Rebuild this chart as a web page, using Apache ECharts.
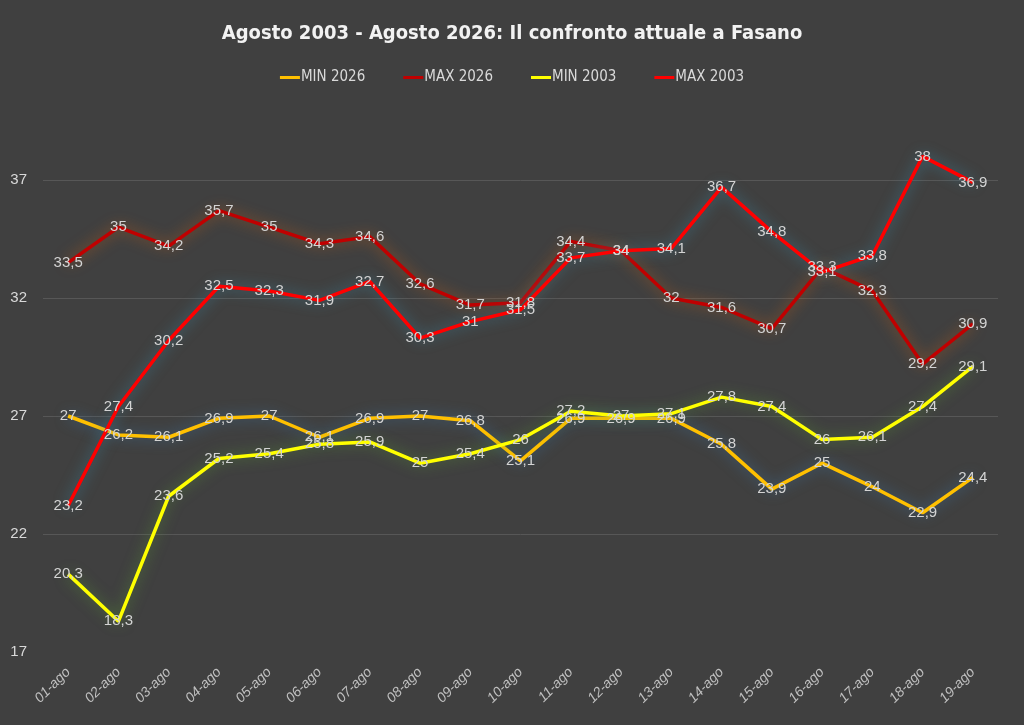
<!DOCTYPE html>
<html>
<head>
<meta charset="utf-8">
<script src="https://cdn.jsdelivr.net/npm/echarts@6/dist/echarts.min.js"></script>
<style>
  html, body { margin: 0; padding: 0; background: #404040; }
  #chart { width: 1024px; height: 725px; }
</style>
</head>
<body>
<div id="chart"></div>
<script>
var days = ["01-ago", "02-ago", "03-ago", "04-ago", "05-ago", "06-ago", "07-ago", "08-ago", "09-ago", "10-ago",
  "11-ago", "12-ago", "13-ago", "14-ago", "15-ago", "16-ago", "17-ago", "18-ago", "19-ago"];
var min2026 = [27, 26.2, 26.1, 26.9, 27, 26.1, 26.9, 27, 26.8, 25.1, 26.9, 26.9, 26.9, 25.8, 23.9, 25, 24, 22.9, 24.4];
var max2026 = [33.5, 35, 34.2, 35.7, 35, 34.3, 34.6, 32.6, 31.7, 31.8, 34.4, 34, 32, 31.6, 30.7, 33.3, 32.3, 29.2, 30.9];
var min2003 = [20.3, 18.3, 23.6, 25.2, 25.4, 25.8, 25.9, 25, 25.4, 26, 27.2, 27, 27.1, 27.8, 27.4, 26, 26.1, 27.4, 29.1];
var max2003 = [23.2, 27.4, 30.2, 32.5, 32.3, 31.9, 32.7, 30.3, 31, 31.5, 33.7, 34, 34.1, 36.7, 34.8, 33.1, 33.8, 38, 36.9];
var yTicks = [17, 22, 27, 32, 37];

var bodyFont = "'Liberation Sans', Arial, sans-serif";
var narrowFont = "'Liberation Sans Narrow', 'DejaVu Sans Condensed', sans-serif";

function makeSeries(name, data, color, glow) {
  return {
    name: name,
    type: "line",
    data: data,
    clip: false,
    symbol: "circle",
    symbolSize: 0.1,
    itemStyle: { color: color },
    lineStyle: { color: color, width: 3.5, shadowColor: glow, shadowBlur: 14 },
    label: {
      show: true,
      position: "inside",
      color: "#d4d4d4",
      fontFamily: bodyFont,
      fontSize: 15,
      formatter: function(p) {
        return String(p.value).replace(".", ",");
      }
    },
    emphasis: { disabled: true },
    animation: false
  };
}

var chart = echarts.init(document.getElementById("chart"));
chart.setOption({
  backgroundColor: "#404040",
  title: {
    text: "Agosto 2003 - Agosto 2026: Il confronto attuale a Fasano",
    left: "center",
    top: 19,
    textStyle: { color: "#f2f2f2", fontFamily: narrowFont, fontWeight: "bold", fontSize: 20 }
  },
  legend: {
    top: 65,
    left: "center",
    itemWidth: 20,
    itemHeight: 3,
    itemGap: 38,
    icon: "rect",
    textStyle: { color: "#d9d9d9", fontFamily: narrowFont, fontSize: 15, padding: [0, 0, 0, -4] },
    data: ["MIN 2026", "MAX 2026", "MIN 2003", "MAX 2003"]
  },
  grid: { left: 43, right: 26, top: 180, bottom: 73 },
  xAxis: {
    type: "category",
    data: days,
    boundaryGap: true,
    axisLine: { show: false },
    axisTick: { show: false },
    axisLabel: {
      rotate: 45,
      color: "#bfbfbf",
      fontStyle: "italic",
      fontFamily: bodyFont,
      fontSize: 14,
      margin: 18
    }
  },
  yAxis: {
    type: "value",
    min: yTicks[0],
    max: yTicks[yTicks.length - 1],
    interval: 5,
    axisLine: { show: false },
    axisTick: { show: false },
    axisLabel: { color: "#d9d9d9", fontFamily: bodyFont, fontSize: 15, margin: 16 },
    splitLine: { showMinLine: false, lineStyle: { color: "#575757", width: 1 } }
  },
  series: [
    makeSeries("MIN 2026", min2026, "#ffc000", "rgba(60,120,170,0.75)"),
    makeSeries("MAX 2026", max2026, "#c00000", "rgba(200,95,20,0.75)"),
    makeSeries("MIN 2003", min2003, "#ffff00", "rgba(90,160,50,0.7)"),
    makeSeries("MAX 2003", max2003, "#ff0000", "rgba(60,140,170,0.75)")
  ]
});
</script>
</body>
</html>
